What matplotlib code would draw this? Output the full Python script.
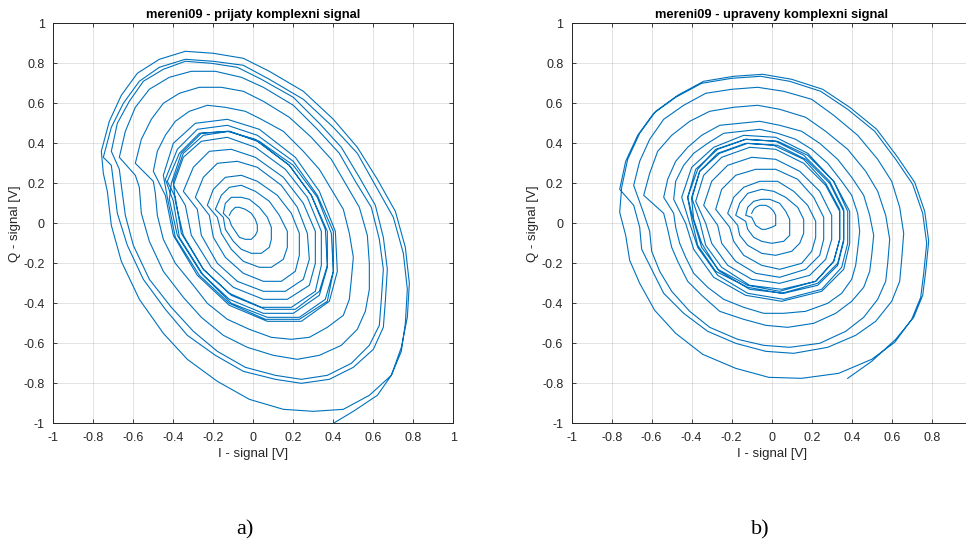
"""
I/Q spiral plots: received vs. corrected complex signal (mereni09)
"""

import numpy as np
import matplotlib.pyplot as plt

plt.rcParams['font.family'] = ['Liberation Sans', 'DejaVu Sans']

# ============================================
# data: one row = one turn of the spiral
# ============================================

# a) received signal, I and Q [V]
I_A = [
    [-0.12, -0.11, -0.09, -0.07, -0.04, -0.01, 0.01, 0.02, 0.02, 0.01, -0.01, -0.04, -0.07, -0.09, -0.11, -0.12],
    [-0.15, -0.14, -0.11, -0.06, -0.02, 0.03, 0.07, 0.09, 0.09, 0.08, 0.04, -0.01, -0.06, -0.10, -0.14, -0.15],
    [-0.19, -0.16, -0.12, -0.06, 0.01, 0.08, 0.13, 0.17, 0.17, 0.15, 0.09, 0.03, -0.05, -0.11, -0.16, -0.18],
    [-0.23, -0.20, -0.14, -0.06, 0.02, 0.12, 0.19, 0.23, 0.23, 0.21, 0.14, 0.05, -0.05, -0.14, -0.20, -0.22],
    [-0.29, -0.25, -0.18, -0.08, 0.02, 0.14, 0.22, 0.27, 0.28, 0.25, 0.16, 0.05, -0.08, -0.18, -0.26, -0.28],
    [-0.35, -0.30, -0.22, -0.11, 0.01, 0.15, 0.25, 0.31, 0.31, 0.28, 0.17, 0.05, -0.10, -0.21, -0.31, -0.34],
    [-0.40, -0.35, -0.26, -0.13, 0.01, 0.16, 0.27, 0.34, 0.34, 0.31, 0.19, 0.04, -0.12, -0.25, -0.35, -0.39],
    [-0.40, -0.35, -0.25, -0.12, 0.02, 0.18, 0.29, 0.36, 0.37, 0.33, 0.21, 0.06, -0.11, -0.25, -0.36, -0.39],
    [-0.43, -0.37, -0.27, -0.13, 0.01, 0.18, 0.29, 0.37, 0.37, 0.33, 0.20, 0.05, -0.12, -0.26, -0.38, -0.42],
    [-0.41, -0.36, -0.26, -0.12, 0.03, 0.20, 0.32, 0.39, 0.40, 0.36, 0.23, 0.07, -0.11, -0.25, -0.37, -0.40],
    [-0.44, -0.38, -0.28, -0.13, 0.02, 0.20, 0.32, 0.40, 0.40, 0.37, 0.23, 0.06, -0.12, -0.27, -0.39, -0.43],
    [-0.45, -0.40, -0.29, -0.13, 0.03, 0.21, 0.33, 0.41, 0.42, 0.38, 0.24, 0.07, -0.12, -0.28, -0.40, -0.44],
    [-0.50, -0.48, -0.44, -0.39, -0.32, -0.23, -0.14, -0.04, 0.04, 0.15, 0.25, 0.33, 0.39, 0.45, 0.48, 0.50,
     0.49, 0.48, 0.45, 0.37, 0.28, 0.19, 0.09, -0.02, -0.13, -0.23, -0.30, -0.39, -0.45, -0.48, -0.49, -0.50],
    [-0.59, -0.56, -0.51, -0.45, -0.37, -0.27, -0.16, -0.05, 0.05, 0.18, 0.29, 0.39, 0.46, 0.53, 0.57, 0.58,
     0.58, 0.56, 0.52, 0.44, 0.33, 0.22, 0.10, -0.03, -0.15, -0.26, -0.35, -0.45, -0.52, -0.56, -0.57, -0.59],
    [-0.67, -0.64, -0.59, -0.52, -0.42, -0.31, -0.19, -0.06, 0.05, 0.20, 0.32, 0.43, 0.51, 0.59, 0.63, 0.65,
     0.64, 0.63, 0.58, 0.49, 0.37, 0.24, 0.11, -0.04, -0.18, -0.30, -0.41, -0.52, -0.60, -0.64, -0.66, -0.67],
    [-0.71, -0.68, -0.62, -0.55, -0.45, -0.34, -0.21, -0.08, 0.04, 0.20, 0.33, 0.44, 0.53, 0.61, 0.65, 0.67,
     0.66, 0.65, 0.60, 0.50, 0.38, 0.24, 0.11, -0.05, -0.19, -0.33, -0.44, -0.55, -0.63, -0.68, -0.70, -0.71],
    [-0.75, -0.71, -0.65, -0.57, -0.47, -0.34, -0.20, -0.05, 0.08, 0.25, 0.40, 0.52, 0.61, 0.70, 0.75, 0.77,
     0.76, 0.74, 0.69, 0.58, 0.45, 0.30, 0.15, -0.02, -0.18, -0.33, -0.45, -0.57, -0.66, -0.71, -0.73, -0.75],
    [-0.76, -0.72, -0.66, -0.58, -0.47, -0.34, -0.20, -0.05, 0.08, 0.25, 0.40, 0.52, 0.62, 0.71, 0.76, 0.78,
     0.77, 0.74, 0.69, 0.62, 0.50, 0.40, 0.33],
]
Q_A = [
    [0.04, 0.06, 0.08, 0.08, 0.07, 0.05, 0.02, -0.01, -0.04, -0.06, -0.08, -0.08, -0.07, -0.04, -0.01, 0.02],
    [0.05, 0.10, 0.13, 0.13, 0.12, 0.08, 0.03, -0.02, -0.08, -0.12, -0.15, -0.15, -0.13, -0.09, -0.03, 0.03],
    [0.07, 0.14, 0.18, 0.19, 0.16, 0.11, 0.04, -0.04, -0.12, -0.18, -0.22, -0.22, -0.19, -0.13, -0.05, 0.03],
    [0.09, 0.17, 0.23, 0.24, 0.21, 0.14, 0.05, -0.05, -0.16, -0.24, -0.29, -0.29, -0.25, -0.17, -0.07, 0.04],
    [0.13, 0.23, 0.30, 0.31, 0.28, 0.19, 0.08, -0.05, -0.18, -0.28, -0.34, -0.34, -0.29, -0.20, -0.06, 0.07],
    [0.16, 0.28, 0.36, 0.37, 0.33, 0.23, 0.10, -0.04, -0.20, -0.31, -0.38, -0.38, -0.32, -0.22, -0.06, 0.09],
    [0.19, 0.33, 0.41, 0.43, 0.38, 0.27, 0.13, -0.04, -0.21, -0.34, -0.42, -0.42, -0.35, -0.23, -0.06, 0.11],
    [0.21, 0.35, 0.44, 0.46, 0.41, 0.29, 0.14, -0.03, -0.21, -0.34, -0.43, -0.43, -0.36, -0.23, -0.05, 0.13],
    [0.21, 0.35, 0.45, 0.46, 0.42, 0.29, 0.14, -0.04, -0.22, -0.36, -0.45, -0.45, -0.38, -0.25, -0.06, 0.12],
    [0.20, 0.35, 0.45, 0.46, 0.41, 0.29, 0.13, -0.05, -0.24, -0.38, -0.47, -0.47, -0.40, -0.26, -0.07, 0.11],
    [0.22, 0.37, 0.47, 0.49, 0.44, 0.31, 0.14, -0.04, -0.24, -0.39, -0.48, -0.48, -0.40, -0.26, -0.07, 0.13],
    [0.24, 0.40, 0.50, 0.52, 0.47, 0.33, 0.16, -0.04, -0.24, -0.39, -0.49, -0.49, -0.41, -0.26, -0.06, 0.14],
    [0.26, 0.36, 0.44, 0.51, 0.56, 0.59, 0.58, 0.56, 0.52, 0.46, 0.36, 0.27, 0.17, 0.07, -0.05, -0.17,
     -0.28, -0.38, -0.46, -0.52, -0.57, -0.58, -0.57, -0.53, -0.48, -0.40, -0.31, -0.20, -0.08, 0.04, 0.15, 0.21],
    [0.30, 0.42, 0.52, 0.60, 0.65, 0.68, 0.68, 0.66, 0.61, 0.53, 0.43, 0.32, 0.20, 0.08, -0.06, -0.20,
     -0.33, -0.44, -0.53, -0.61, -0.66, -0.68, -0.66, -0.62, -0.56, -0.47, -0.37, -0.24, -0.09, 0.05, 0.18, 0.24],
    [0.33, 0.46, 0.58, 0.67, 0.73, 0.76, 0.76, 0.73, 0.68, 0.59, 0.47, 0.35, 0.21, 0.08, -0.08, -0.23,
     -0.38, -0.51, -0.61, -0.70, -0.76, -0.78, -0.76, -0.72, -0.64, -0.54, -0.42, -0.28, -0.11, 0.04, 0.19, 0.27],
    [0.36, 0.50, 0.61, 0.71, 0.77, 0.81, 0.80, 0.78, 0.72, 0.63, 0.50, 0.38, 0.23, 0.09, -0.07, -0.23,
     -0.39, -0.52, -0.63, -0.72, -0.78, -0.80, -0.78, -0.74, -0.66, -0.56, -0.43, -0.28, -0.11, 0.05, 0.21, 0.29],
    [0.33, 0.48, 0.60, 0.71, 0.78, 0.82, 0.81, 0.79, 0.72, 0.62, 0.48, 0.35, 0.19, 0.03, -0.15, -0.33,
     -0.50, -0.64, -0.76, -0.86, -0.93, -0.94, -0.93, -0.88, -0.79, -0.68, -0.55, -0.38, -0.19, -0.01, 0.16, 0.25],
    [0.36, 0.51, 0.64, 0.75, 0.82, 0.86, 0.85, 0.825, 0.76, 0.66, 0.52, 0.38, 0.22, 0.06, -0.12, -0.30,
     -0.47, -0.62, -0.76, -0.86, -0.94, -1.00, -1.05],
]

# b) corrected signal, I and Q [V]
I_B = [
    [-0.10, -0.09, -0.08, -0.06, -0.03, -0.01, 0.01, 0.02, 0.02, 0.02, 0.00, -0.03, -0.05, -0.08, -0.09, -0.10],
    [-0.13, -0.12, -0.09, -0.05, -0.01, 0.04, 0.07, 0.09, 0.09, 0.09, 0.06, 0.00, -0.05, -0.09, -0.12, -0.13],
    [-0.18, -0.16, -0.12, -0.05, 0.01, 0.07, 0.13, 0.16, 0.16, 0.14, 0.10, 0.02, -0.05, -0.12, -0.16, -0.17],
    [-0.22, -0.19, -0.14, -0.06, 0.03, 0.11, 0.18, 0.22, 0.22, 0.20, 0.15, 0.04, -0.05, -0.14, -0.19, -0.21],
    [-0.28, -0.25, -0.18, -0.08, 0.02, 0.13, 0.21, 0.26, 0.26, 0.24, 0.17, 0.04, -0.08, -0.18, -0.25, -0.27],
    [-0.34, -0.30, -0.22, -0.10, 0.02, 0.14, 0.24, 0.30, 0.30, 0.27, 0.19, 0.04, -0.10, -0.22, -0.30, -0.33],
    [-0.38, -0.34, -0.25, -0.11, 0.02, 0.16, 0.27, 0.34, 0.34, 0.31, 0.22, 0.05, -0.11, -0.25, -0.33, -0.36],
    [-0.40, -0.36, -0.27, -0.13, 0.01, 0.16, 0.27, 0.34, 0.34, 0.31, 0.22, 0.04, -0.12, -0.27, -0.35, -0.39],
    [-0.40, -0.36, -0.26, -0.12, 0.03, 0.17, 0.29, 0.36, 0.36, 0.33, 0.23, 0.06, -0.11, -0.26, -0.35, -0.39],
    [-0.42, -0.37, -0.28, -0.13, 0.02, 0.16, 0.29, 0.36, 0.36, 0.33, 0.23, 0.05, -0.12, -0.28, -0.37, -0.40],
    [-0.42, -0.38, -0.27, -0.13, 0.03, 0.18, 0.31, 0.38, 0.38, 0.35, 0.25, 0.06, -0.12, -0.27, -0.37, -0.41],
    [-0.45, -0.40, -0.29, -0.14, 0.02, 0.18, 0.31, 0.39, 0.39, 0.36, 0.25, 0.05, -0.13, -0.29, -0.39, -0.43],
    [-0.49, -0.48, -0.44, -0.39, -0.32, -0.24, -0.15, -0.06, 0.03, 0.12, 0.20, 0.28, 0.35, 0.40, 0.43, 0.44,
     0.43, 0.42, 0.40, 0.35, 0.28, 0.17, 0.06, -0.04, -0.14, -0.24, -0.32, -0.39, -0.43, -0.46, -0.48, -0.49],
    [-0.54, -0.52, -0.48, -0.42, -0.35, -0.26, -0.16, -0.06, 0.04, 0.15, 0.24, 0.33, 0.40, 0.46, 0.49, 0.51,
     0.50, 0.49, 0.46, 0.40, 0.32, 0.21, 0.08, -0.03, -0.14, -0.26, -0.35, -0.42, -0.47, -0.50, -0.52, -0.54],
    [-0.64, -0.61, -0.57, -0.50, -0.41, -0.31, -0.19, -0.07, 0.04, 0.17, 0.27, 0.38, 0.47, 0.53, 0.57, 0.59,
     0.58, 0.57, 0.53, 0.46, 0.37, 0.24, 0.09, -0.04, -0.17, -0.31, -0.41, -0.50, -0.56, -0.60, -0.61, -0.64],
    [-0.69, -0.66, -0.61, -0.54, -0.44, -0.33, -0.20, -0.07, 0.06, 0.20, 0.31, 0.43, 0.53, 0.60, 0.64, 0.66,
     0.65, 0.64, 0.60, 0.52, 0.42, 0.28, 0.11, -0.03, -0.18, -0.32, -0.44, -0.54, -0.60, -0.65, -0.66, -0.69],
    [-0.76, -0.73, -0.67, -0.59, -0.48, -0.35, -0.20, -0.055, 0.09, 0.245, 0.38, 0.515, 0.62, 0.705, 0.755, 0.775,
     0.76, 0.745, 0.70, 0.615, 0.50, 0.335, 0.15, -0.015, -0.18, -0.345, -0.48, -0.585, -0.66, -0.71, -0.73, -0.76],
    [-0.75, -0.72, -0.66, -0.58, -0.47, -0.34, -0.19, -0.045, 0.10, 0.255, 0.39, 0.525, 0.63, 0.715, 0.765, 0.785,
     0.77, 0.755, 0.71, 0.62, 0.50, 0.38],
]
Q_B = [
    [0.05, 0.07, 0.08, 0.09, 0.09, 0.08, 0.06, 0.04, 0.01, -0.01, -0.02, -0.03, -0.03, -0.01, 0.01, 0.03],
    [0.04, 0.08, 0.11, 0.12, 0.12, 0.10, 0.06, 0.02, -0.02, -0.06, -0.09, -0.10, -0.09, -0.07, -0.03, 0.01],
    [0.04, 0.10, 0.15, 0.17, 0.16, 0.13, 0.08, 0.02, -0.05, -0.10, -0.14, -0.16, -0.15, -0.11, -0.06, -0.01],
    [0.05, 0.13, 0.18, 0.21, 0.21, 0.16, 0.09, 0.01, -0.07, -0.14, -0.20, -0.23, -0.21, -0.16, -0.09, -0.02],
    [0.07, 0.17, 0.24, 0.27, 0.27, 0.22, 0.13, 0.03, -0.08, -0.16, -0.23, -0.27, -0.25, -0.19, -0.10, -0.01],
    [0.09, 0.21, 0.29, 0.33, 0.32, 0.26, 0.16, 0.04, -0.08, -0.18, -0.26, -0.30, -0.28, -0.21, -0.10, 0.00],
    [0.11, 0.24, 0.33, 0.38, 0.37, 0.30, 0.19, 0.06, -0.08, -0.19, -0.29, -0.33, -0.31, -0.22, -0.11, 0.01],
    [0.13, 0.26, 0.35, 0.40, 0.39, 0.32, 0.20, 0.07, -0.08, -0.19, -0.29, -0.34, -0.31, -0.23, -0.10, 0.02],
    [0.12, 0.26, 0.35, 0.40, 0.39, 0.32, 0.20, 0.06, -0.09, -0.21, -0.31, -0.35, -0.33, -0.24, -0.12, 0.01],
    [0.13, 0.27, 0.37, 0.42, 0.41, 0.34, 0.21, 0.07, -0.08, -0.20, -0.30, -0.35, -0.32, -0.24, -0.11, 0.02],
    [0.13, 0.27, 0.37, 0.42, 0.41, 0.34, 0.21, 0.06, -0.10, -0.22, -0.33, -0.38, -0.35, -0.26, -0.12, 0.00],
    [0.13, 0.28, 0.38, 0.44, 0.43, 0.35, 0.21, 0.06, -0.10, -0.23, -0.34, -0.39, -0.36, -0.27, -0.13, 0.00],
    [0.12, 0.21, 0.29, 0.35, 0.40, 0.45, 0.46, 0.47, 0.45, 0.42, 0.37, 0.30, 0.21, 0.14, 0.05, -0.04,
     -0.13, -0.21, -0.28, -0.35, -0.40, -0.44, -0.45, -0.45, -0.42, -0.38, -0.32, -0.25, -0.17, -0.10, -0.02, 0.05],
    [0.13, 0.22, 0.31, 0.38, 0.44, 0.49, 0.50, 0.51, 0.49, 0.46, 0.40, 0.32, 0.23, 0.14, 0.04, -0.06,
     -0.16, -0.24, -0.32, -0.39, -0.45, -0.50, -0.52, -0.51, -0.48, -0.44, -0.36, -0.29, -0.19, -0.12, -0.03, 0.05],
    [0.14, 0.25, 0.36, 0.44, 0.51, 0.56, 0.58, 0.59, 0.57, 0.53, 0.46, 0.37, 0.26, 0.16, 0.04, -0.08,
     -0.20, -0.29, -0.38, -0.47, -0.54, -0.60, -0.62, -0.61, -0.58, -0.52, -0.44, -0.34, -0.24, -0.14, -0.04, 0.05],
    [0.19, 0.31, 0.42, 0.52, 0.59, 0.65, 0.67, 0.68, 0.66, 0.62, 0.54, 0.44, 0.32, 0.21, 0.08, -0.05,
     -0.18, -0.29, -0.39, -0.49, -0.56, -0.62, -0.65, -0.64, -0.60, -0.54, -0.45, -0.35, -0.23, -0.13, -0.02, 0.09],
    [0.17, 0.31, 0.44, 0.55, 0.63, 0.70, 0.725, 0.735, 0.71, 0.66, 0.57, 0.46, 0.32, 0.195, 0.05, -0.10,
     -0.25, -0.37, -0.48, -0.595, -0.68, -0.75, -0.775, -0.77, -0.725, -0.655, -0.55, -0.435, -0.30, -0.185, -0.06, 0.055],
    [0.18, 0.32, 0.45, 0.56, 0.64, 0.71, 0.735, 0.745, 0.72, 0.67, 0.58, 0.47, 0.33, 0.205, 0.06, -0.09,
     -0.24, -0.36, -0.47, -0.58, -0.69, -0.775],
]

TITLE_A = 'mereni09 - prijaty komplexni signal'
TITLE_B = 'mereni09 - upraveny komplexni signal'
TICKS = [-1, -0.8, -0.6, -0.4, -0.2, 0, 0.2, 0.4, 0.6, 0.8, 1]
TICK_LABELS = ['-1', '-0.8', '-0.6', '-0.4', '-0.2', '0', '0.2', '0.4', '0.6', '0.8', '1']

LINE_COLOR = '#0072BD'
TEXT_COLOR = '#262626'


def style_axes(ax, title, n_xticks):
    ax.set_xlim(-1, 1)
    ax.set_ylim(-1, 1)
    ax.set_xticks(TICKS[:n_xticks])
    ax.set_xticklabels(TICK_LABELS[:n_xticks])
    ax.set_yticks(TICKS)
    ax.set_yticklabels(TICK_LABELS)
    ax.grid(True, color=TEXT_COLOR, alpha=0.15, linewidth=0.6)
    ax.set_axisbelow(True)
    ax.tick_params(direction='in', top=True, right=True, length=3, width=0.6,
                   labelsize=9, colors=TEXT_COLOR, pad=6)
    for sp in ax.spines.values():
        sp.set_color(TEXT_COLOR)
        sp.set_linewidth(0.7)
    ax.set_title(title, fontsize=9.3, fontweight='bold', color='black', pad=4)
    ax.set_xlabel('I - signal [V]', fontsize=9.5, color=TEXT_COLOR, labelpad=3)
    ax.set_ylabel('Q - signal [V]', fontsize=9.5, color=TEXT_COLOR, labelpad=2)


fig = plt.figure(figsize=(9.66, 5.48), dpi=100)

# a) prijaty signal
ax1 = fig.add_axes([0.0552, 0.2275, 0.4141, 0.730])
ax1.plot(np.concatenate(I_A), np.concatenate(Q_A), color=LINE_COLOR, linewidth=0.8)
style_axes(ax1, TITLE_A, 11)

# b) upraveny signal (osa je vpravo oriznuta)
ax2 = fig.add_axes([0.5918, 0.2275, 0.4141, 0.730])
ax2.plot(np.concatenate(I_B), np.concatenate(Q_B), color=LINE_COLOR, linewidth=0.8)
style_axes(ax2, TITLE_B, 10)

fig.text(0.2536, 0.033, 'a)', fontsize=16, family=['Liberation Serif', 'DejaVu Serif'],
         ha='center', va='center')
fig.text(0.787, 0.033, 'b)', fontsize=16, family=['Liberation Serif', 'DejaVu Serif'],
         ha='center', va='center')

plt.savefig('out.png', dpi=100)
